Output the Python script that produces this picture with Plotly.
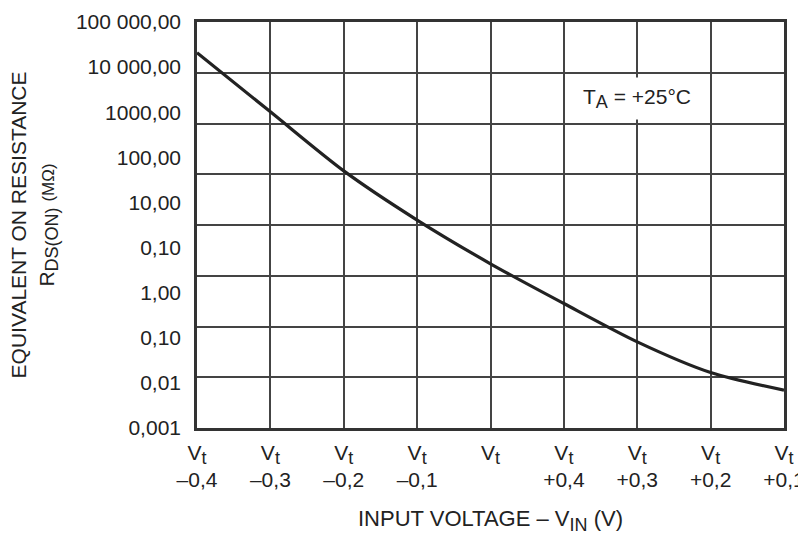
import plotly.graph_objects as go

# ---- data ----
SUB_T = "V<sub><span style='font-size:18px'>t</span></sub>"
x_positions = [0, 1, 2, 3, 4, 5, 6, 7, 8]
x_tick_labels = [
    SUB_T + "<br>–0,4", SUB_T + "<br>–0,3", SUB_T + "<br>–0,2",
    SUB_T + "<br>–0,1", SUB_T, SUB_T + "<br>+0,4",
    SUB_T + "<br>+0,3", SUB_T + "<br>+0,2", SUB_T + "<br>+0,1",
]
# equivalent on resistance, read on the printed (decade) scale
r_ds_on = [209000, 10200, 501, 40.7, 4.37, 0.575, 0.0813, 0.0170, 0.00692]

y_tick_values = [1e-3, 1e-2, 1e-1, 1, 10, 100, 1e3, 1e4, 1e5, 1e6]
y_tick_labels = ["0,001", "0,01", "0,10", "1,00", "0,10", "10,00",
                 "100,00", "1000,00", "10 000,00", "100 000,00"]
grid_rows = [0, 1, 2, 3, 4, 5, 6, 7, 8]

FONT = "Liberation Sans, Arial, sans-serif"
TXT = "#222222"
GRID = "#444444"

fig = go.Figure()
fig.add_trace(go.Scatter(
    x=x_positions, y=r_ds_on, mode="lines", yaxis="y2",
    line=dict(color="#222222", width=3.2, shape="spline", smoothing=0.8),
    showlegend=False, hoverinfo="skip",
))

# the page body has an 8px margin; the figure is offset by it
fig.update_layout(
    width=798, height=531,
    margin=dict(l=189, r=22, t=14, b=111, autoexpand=False),
    paper_bgcolor="white", plot_bgcolor="white",
    font=dict(family=FONT, size=21, color=TXT),
    xaxis=dict(
        range=[0, 8], tickvals=x_positions, ticktext=x_tick_labels,
        showgrid=True, gridcolor=GRID, gridwidth=1.5,
        showline=True, linecolor="#333333", linewidth=2.5, mirror=True,
        ticks="", zeroline=False, ticklabelstandoff=4,
        automargin=False, ticklabeloverflow="allow",
        tickfont=dict(family=FONT, size=21, color=TXT),
    ),
    yaxis=dict(
        range=[0, 8], tickvals=grid_rows, showticklabels=False,
        showgrid=True, gridcolor=GRID, gridwidth=1.5,
        showline=True, linecolor="#333333", linewidth=2.5, mirror=True,
        ticks="", zeroline=False, automargin=False,
    ),
    yaxis2=dict(
        type="log", range=[-3, 6], overlaying="y", side="left", anchor="x",
        tickvals=y_tick_values, ticktext=y_tick_labels,
        showgrid=False, zeroline=False, showline=False, ticks="",
        ticklabelstandoff=15, automargin=False, ticklabeloverflow="allow",
        tickfont=dict(family=FONT, size=21, color=TXT),
    ),
    annotations=[
        dict(x=6, y=6.5, xref="x", yref="y",
             text="T<sub><span style='font-size:18px'>A</span></sub> = +25°C",
             showarrow=False, bgcolor="white", borderpad=7,
             font=dict(family=FONT, size=21, color=TXT)),
        dict(x=0.5, y=-0.228, xref="paper", yref="paper",
             text="INPUT VOLTAGE – V<sub><span style='font-size:18px'>IN</span></sub> (V)",
             showarrow=False, xanchor="center", yanchor="middle",
             font=dict(family=FONT, size=22, color=TXT)),
        dict(x=-0.277, y=0.5, xref="paper", yref="paper", textangle=-90,
             text="EQUIVALENT ON RESISTANCE<br>R<sub><span style='font-size:18px'>DS(ON)</span></sub> <span style='font-size:17px'>(MΩ)</span>",
             showarrow=False, xanchor="center", yanchor="middle",
             font=dict(family=FONT, size=21, color=TXT)),
    ],
)

fig.write_html("out.html")
